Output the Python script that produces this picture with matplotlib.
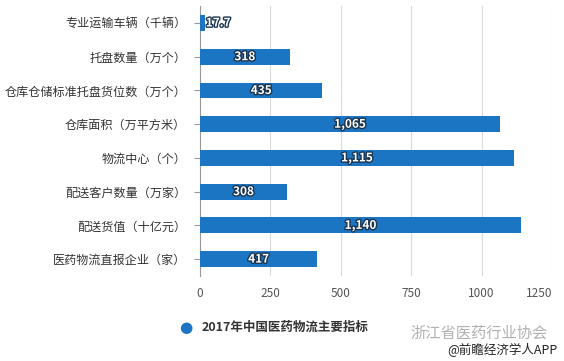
import numpy as np
import matplotlib.pyplot as plt
import matplotlib.patheffects as pe

plt.rcParams['font.family'] = ['Noto Sans CJK SC', 'DejaVu Sans']

categories = ["专业运输车辆（千辆）", "托盘数量（万个）", "仓库仓储标准托盘货位数（万个）",
              "仓库面积（万平方米）", "物流中心（个）", "配送客户数量（万家）",
              "配送货值（十亿元）", "医药物流直报企业（家）"]
values = [17.7, 318, 435, 1065, 1115, 308, 1140, 417]
labels = ["17.7", "318", "435", "1,065", "1,115", "308", "1,140", "417"]
xticks = [0, 250, 500, 750, 1000, 1250]
series_name = "2017年中国医药物流主要指标"

bar_color = "#1b75c3"

fig = plt.figure(figsize=(5.64, 3.61), dpi=100)
ax = fig.add_axes([0.3546, 0.2355, 0.6241, 0.7475])

y = np.arange(len(categories))
ax.barh(y, values, height=0.47, color=bar_color, zorder=3)
ax.set_ylim(len(categories) - 0.5, -0.5)
ax.set_xlim(0, 1250)
ax.set_yticks(y)
ax.set_yticklabels(categories, fontsize=8.7, color="#333333")
ax.set_xticks(xticks)
ax.set_xticklabels([str(t) for t in xticks], fontsize=8.5, color="#555555")
ax.get_xticklabels()[-1].set_horizontalalignment("right")
ax.tick_params(axis="y", length=4, color="#999999", pad=6)
ax.tick_params(axis="x", length=0, pad=8)
ax.grid(axis="x", color="#d9d9d9", linewidth=0.8, zorder=0)
for s in ["top", "right", "bottom"]:
    ax.spines[s].set_visible(False)
ax.spines["left"].set_color("#999999")

stroke = [pe.withStroke(linewidth=2, foreground="#1a3550")]
for yi, v, lab in zip(y, values, labels):
    if v < 100:
        ax.text(v + 3, yi, lab, ha="left", va="center", fontsize=8.5,
                color="white", fontweight="bold", path_effects=stroke, zorder=4)
    else:
        ax.text(v / 2, yi, lab, ha="center", va="center", fontsize=8.5,
                color="white", fontweight="bold", path_effects=stroke, zorder=4)

# legend
fig.text(186 / 564, 1 - 327 / 361, "●", fontsize=11, color=bar_color,
         ha="center", va="center", family="DejaVu Sans")
fig.text(202 / 564, 1 - 327 / 361, series_name, fontsize=9, fontweight="bold",
         color="#333333", ha="left", va="center")

# watermark texts
fig.text(548 / 564, 1 - 333 / 361, "浙江省医药行业协会", fontsize=11,
         color="#b0b0b0", ha="right", va="center")
fig.text(558 / 564, 1 - 350 / 361, "@前瞻经济学人APP", fontsize=9,
         color="#222222", ha="right", va="center")

plt.savefig("out.png", dpi=100)
